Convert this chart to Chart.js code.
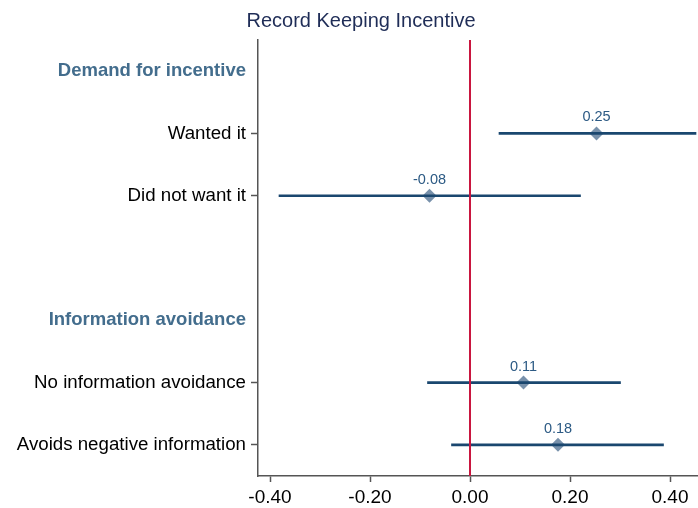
<!DOCTYPE html>
<html lang="en">
<head>
<meta charset="UTF-8">
<title>Record Keeping Incentive</title>
<script src="https://cdn.jsdelivr.net/npm/chart.js"></script>
<style>
    body { margin: 0; background: #fff; }
    #wrap { position: relative; width: 698px; height: 508px; }
    #title {
        position: absolute; top: 10px; left: 0; width: 722px;
        text-align: center; font-family: "Liberation Sans", Arial, sans-serif;
        font-size: 20px; line-height: 20px; color: #1f2d57;
    }
</style>
</head>
<body>
<div id="wrap">
    <div id="title">Record Keeping Incentive</div>
    <canvas id="coef-chart" width="698" height="508"></canvas>
</div>
<script>
    // rows of the y axis (headers + items + one blank spacer)
    const rowLabels = ['Demand for incentive', 'Wanted it', 'Did not want it', '',
        'Information avoidance', 'No information avoidance', 'Avoids negative information'];
    const headerRows = ['Demand for incentive', 'Information avoidance'];

    // estimates
    const items = ['Wanted it', 'Did not want it', 'No information avoidance', 'Avoids negative information'];
    const coef = [0.253, -0.081, 0.107, 0.176];
    const ciLow = [0.058, -0.382, -0.085, -0.037];
    const ciHigh = [0.452, 0.221, 0.301, 0.387];
    const coefText = ['0.25', '-0.08', '0.11', '0.18'];

    const xTicks = [-0.4, -0.2, 0, 0.2, 0.4];

    Chart.defaults.font.family = '"Liberation Sans", Arial, sans-serif';

    const isHeader = i => headerRows.includes(rowLabels[i]);
    const isItem = i => items.includes(rowLabels[i]);

    // red reference line at zero
    const zeroLine = {
        id: 'zeroLine',
        afterDatasetsDraw(chart) {
            const {ctx, chartArea, scales} = chart;
            const x = scales.x.getPixelForValue(0);
            ctx.save();
            ctx.strokeStyle = '#c9163f';
            ctx.lineWidth = 2;
            ctx.beginPath();
            ctx.moveTo(x, chartArea.top);
            ctx.lineTo(x, chartArea.bottom);
            ctx.stroke();
            ctx.restore();
        }
    };

    // value labels above the diamonds
    const coefLabels = {
        id: 'coefLabels',
        afterDraw(chart) {
            const {ctx} = chart;
            const meta = chart.getDatasetMeta(1);
            ctx.save();
            ctx.font = '14.5px "Liberation Sans", Arial, sans-serif';
            ctx.fillStyle = '#2c5a84';
            ctx.textAlign = 'center';
            ctx.textBaseline = 'middle';
            meta.data.forEach((pt, i) => {
                ctx.fillText(coefText[i], pt.x, pt.y - 16);
            });
            ctx.restore();
        }
    };

    const ctx = document.getElementById('coef-chart').getContext('2d');
    const chart = new Chart(ctx, {
        type: 'bar',
        data: {
            labels: rowLabels,
            datasets: [{
                type: 'bar',
                data: items.map((c, i) => ({y: c, x: [ciLow[i], ciHigh[i]]})),
                backgroundColor: '#1a476f',
                borderWidth: 0,
                barThickness: 2
            }, {
                type: 'line',
                data: items.map((c, i) => ({y: c, x: coef[i]})),
                showLine: false,
                pointStyle: 'rectRot',
                pointRadius: 7,
                pointBackgroundColor: '#7891ab',
                pointBorderWidth: 0
            }]
        },
        options: {
            indexAxis: 'y',
            responsive: false,
            animation: false,
            layout: {
                autoPadding: false,
                padding: {top: 40, left: 0, right: 0, bottom: 0}
            },
            scales: {
                x: {
                    type: 'linear',
                    min: -0.424,
                    max: 0.456,
                    afterBuildTicks: s => { s.ticks = xTicks.map(v => ({value: v})); },
                    afterFit: s => { s.height = 32; s.paddingLeft = 0; s.paddingRight = 0; },
                    border: {color: '#555', width: 1.5},
                    grid: {drawOnChartArea: false, tickLength: 6, tickColor: '#555', tickWidth: 1.5},
                    ticks: {
                        padding: 4,
                        color: '#000',
                        font: {size: 19},
                        callback: v => Number(v).toFixed(2)
                    }
                },
                y: {
                    type: 'category',
                    offset: true,
                    afterFit: s => { s.width = 258; s.paddingTop = 0; s.paddingBottom = 0; },
                    border: {color: '#555', width: 1.5},
                    grid: {
                        offset: false,
                        drawOnChartArea: false,
                        tickLength: 7,
                        tickWidth: 1.5,
                        tickColor: c => isItem(c.index) ? '#555' : 'rgba(0,0,0,0)'
                    },
                    ticks: {
                        padding: 5,
                        autoSkip: false,
                        color: c => isHeader(c.index) ? '#436d8d' : '#000',
                        font: c => isHeader(c.index) ? {size: 18.5, weight: 'bold'} : {size: 18.7}
                    }
                }
            },
            plugins: {
                legend: {display: false},
                tooltip: {enabled: false}
            }
        },
        plugins: [zeroLine, coefLabels]
    });
</script>
</body>
</html>
